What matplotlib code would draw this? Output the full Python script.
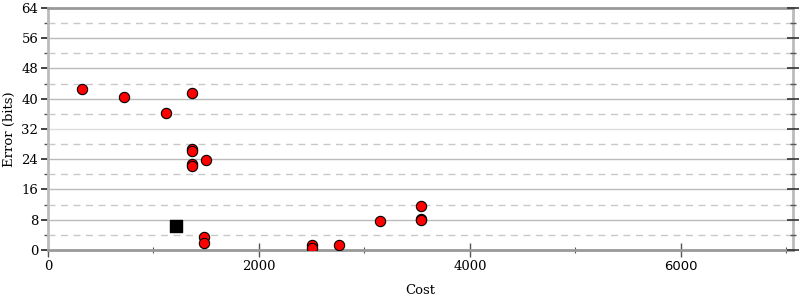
import matplotlib
matplotlib.use('Agg')
import matplotlib.pyplot as plt
from matplotlib.ticker import MultipleLocator

# red points: cost vs error
cost = [322, 720, 1118, 1365, 1365, 1365, 1365, 1365, 1498, 1479, 1479,
        2502, 2502, 2758, 3147, 3535, 3535, 3535]
error = [42.6, 40.5, 36.2, 41.5, 26.7, 26.2, 22.8, 22.2, 23.8, 3.4, 1.85,
         1.4, 0.6, 1.3, 7.6, 11.6, 8.2, 7.8]

# black square
ref_cost = [1213]
ref_error = [6.3]

x_ticks = [0, 2000, 4000, 6000]
y_ticks = [0, 8, 16, 24, 32, 40, 48, 56, 64]

plt.rcParams['font.family'] = 'DejaVu Serif'

fig = plt.figure(figsize=(8, 3), dpi=100)
ax = fig.add_axes([0.06, 0.1667, 0.931, 0.8067])

ax.set_xlim(0, 7060)
ax.set_ylim(0, 64)

# grid
for y in y_ticks[1:-1]:
    ax.axhline(y, color='#dddddd' if y == 32 else '#bbbbbb', lw=1, zorder=1)
for y in range(4, 64, 8):
    ax.axhline(y, color='#c8c8c8', lw=1, ls=(0, (5, 4)), zorder=1)

ax.scatter(cost, error, s=55, color='red', edgecolors='black', linewidths=0.8, zorder=3)
ax.scatter(ref_cost, ref_error, s=75, marker='s', color='black', zorder=3)

ax.set_xticks(x_ticks)
ax.set_xticklabels([str(v) for v in x_ticks])
ax.set_yticks(y_ticks)
ax.set_yticklabels([str(v) for v in y_ticks])
ax.xaxis.set_minor_locator(MultipleLocator(1000))
ax.yaxis.set_minor_locator(MultipleLocator(4))

ax.spines['left'].set_color('#bbbbbb')
ax.spines['left'].set_linewidth(2)
ax.spines['right'].set_color('#bbbbbb')
ax.spines['right'].set_linewidth(2)
ax.spines['bottom'].set_color('#999999')
ax.spines['bottom'].set_linewidth(2)
ax.spines['top'].set_color('#999999')
ax.spines['top'].set_linewidth(2)

ax.tick_params(axis='y', which='major', direction='out', length=5, width=1.2,
               color='#222222', labelsize=9.5, pad=2)
ax.tick_params(axis='y', which='minor', direction='out', length=3, width=1,
               color='#555555')
ax.tick_params(axis='x', which='major', direction='inout', length=10, width=1,
               color='#555555', labelsize=9.5, pad=2)
ax.tick_params(axis='x', which='minor', direction='inout', length=5, width=0.8,
               color='#555555')

# right-side ticks crossing the spine
ax2 = ax.twinx()
ax2.set_ylim(0, 64)
ax2.set_yticks(y_ticks)
ax2.yaxis.set_minor_locator(MultipleLocator(4))
ax2.tick_params(axis='y', which='major', direction='inout', length=8, width=1.2,
                color='#333333', labelright=False)
ax2.tick_params(axis='y', which='minor', direction='inout', length=4, width=1,
                color='#555555')
for s in ax2.spines.values():
    s.set_visible(False)

for lbl in ax.get_xticklabels():
    if lbl.get_text() == '6000':
        lbl.set_family('DejaVu Sans')

ax.set_xlabel('Cost', fontsize=9.5, labelpad=8)
ax.set_ylabel('Error (bits)', fontsize=9.5, labelpad=4)

fig.savefig('out.png', dpi=100)
